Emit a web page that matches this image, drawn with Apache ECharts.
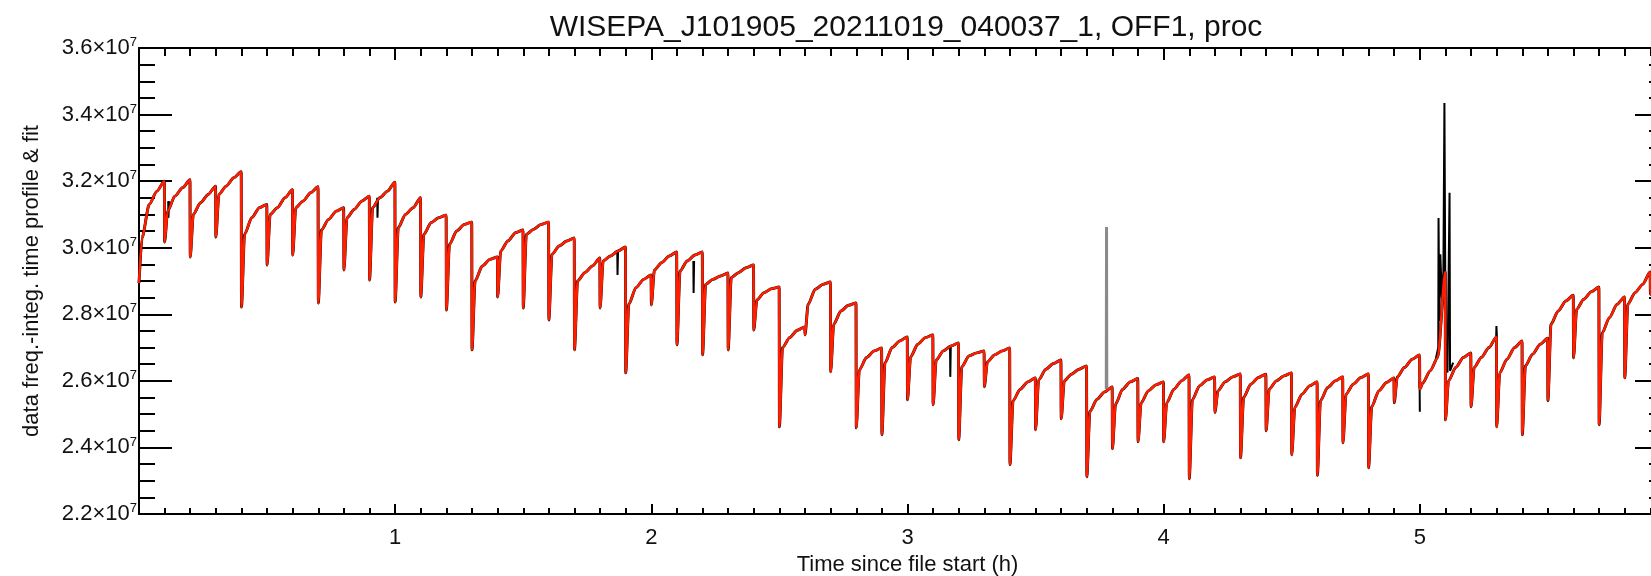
<!DOCTYPE html>
<html>
<head>
<meta charset="utf-8">
<script src="https://cdn.jsdelivr.net/npm/echarts@6/dist/echarts.min.js"></script>
<style>
html,body{margin:0;padding:0;background:#fff;}
#chart{width:1651px;height:576px;}
</style>
</head>
<body>
<div id="chart"></div>
<script>
// ---- data (values in units of 1e7) ----
// start time (h) of each ramp between detector resets
const resetTimes = [0.0,0.1,0.2,0.3,0.4,0.5,0.6,0.7,0.8,0.9,
  1.0,1.1,1.2,1.3,1.4,1.5,1.6,1.7,1.8,1.9,
  2.0,2.1,2.2,2.3,2.4,2.5,2.6,2.7,2.8,2.9,
  3.0,3.1,3.2,3.3,3.4,3.5,3.6,3.7,3.8,3.9,
  4.0,4.1,4.2,4.3,4.4,4.5,4.6,4.7,4.8,4.9,
  5.0,5.1,5.2,5.3,5.4,5.5,5.6,5.7,5.8,5.9];
// hours after each reset at which the values below were read
const sampleOffsets = [0, 0.012, 0.04, 0.07, 0.099];
const rampBottom = [2.894,3.017,2.972,3.032,2.822,2.948,2.978,2.834,2.933,2.903,
  2.837,2.852,2.813,2.693,2.852,2.819,2.783,2.693,2.819,2.624,
  2.828,2.708,2.678,2.693,2.753,2.462,2.738,2.627,2.459,2.438,
  2.543,2.528,2.423,2.582,2.348,2.453,2.486,2.312,2.396,2.417,
  2.417,2.306,2.505,2.369,2.450,2.378,2.316,2.414,2.339,2.534,
  2.575,2.483,2.522,2.462,2.438,2.540,2.669,2.468,2.609,2.860];
const rampKnee = [3.03,3.11,3.10,3.16,3.04,3.10,3.12,3.053,3.09,3.12,
  3.06,3.04,3.01,2.90,2.99,3.04,2.98,2.90,2.96,2.83,
  2.933,2.93,2.89,2.91,2.843,2.70,2.83,2.77,2.633,2.654,
  2.672,2.663,2.642,2.657,2.54,2.603,2.60,2.508,2.53,2.534,
  2.534,2.543,2.57,2.55,2.575,2.52,2.54,2.56,2.522,2.612,
  2.594,2.60,2.64,2.624,2.645,2.77,2.815,2.744,2.83,2.93];
const rampMid = [3.13,3.155,3.135,3.185,3.09,3.12,3.14,3.085,3.115,3.15,
  3.10,3.075,3.05,2.945,3.02,3.055,3.005,2.925,2.975,2.88,
  2.955,2.96,2.905,2.925,2.865,2.73,2.875,2.81,2.67,2.70,
  2.71,2.69,2.675,2.678,2.575,2.635,2.62,2.545,2.575,2.57,
  2.575,2.585,2.597,2.59,2.60,2.56,2.58,2.59,2.57,2.64,
  2.63,2.64,2.67,2.665,2.68,2.81,2.845,2.79,2.865,2.95];
const rampLate = [3.17,3.18,3.16,3.21,3.12,3.15,3.165,3.11,3.14,3.17,
  3.12,3.09,3.07,2.965,3.045,3.07,3.02,2.945,2.99,2.905,
  2.975,2.978,2.915,2.94,2.877,2.752,2.89,2.827,2.69,2.72,
  2.73,2.705,2.684,2.69,2.597,2.652,2.635,2.567,2.597,2.588,
  2.60,2.603,2.612,2.61,2.615,2.585,2.60,2.61,2.595,2.665,
  2.67,2.67,2.70,2.70,2.71,2.84,2.868,2.83,2.89,2.97];
const rampTop = [3.200,3.204,3.185,3.228,3.130,3.174,3.183,3.120,3.155,3.197,
  3.150,3.098,3.077,2.972,3.053,3.077,3.029,2.969,3.002,2.918,
  2.987,2.987,2.924,2.948,2.882,2.762,2.897,2.834,2.699,2.732,
  2.738,2.714,2.690,2.699,2.609,2.663,2.645,2.582,2.607,2.597,
  2.618,2.612,2.621,2.620,2.624,2.597,2.612,2.621,2.609,2.678,
  2.927,2.684,2.732,2.720,2.728,2.857,2.882,2.852,2.927,2.980];
// raw data excursions away from the fit (null = break)
const glitchTime = [0.114,0.115,0.117,null,0.930,0.931,0.933,null,1.867,1.868,1.870,null,
  2.164,2.165,2.167,null,3.166,3.167,3.169,null,4.999,5.000,null,
  5.062,5.072,5.073,5.076,5.080,5.086,5.092,5.096,5.099,5.102,5.108,5.115,5.116,5.118,5.130,null,
  5.298,5.299,5.301];
const glitchValue = [3.14,3.09,3.14,null,3.15,3.09,3.15,null,2.99,2.918,2.99,null,
  2.96,2.864,2.96,null,2.705,2.612,2.705,null,2.60,2.507,null,
  2.665,2.70,3.089,2.78,2.98,2.85,2.93,3.435,2.95,2.65,2.625,2.63,3.165,2.63,2.655,null,
  2.73,2.765,2.73];
// flagged data spike (grey)
const flaggedTime = [3.776, 3.777, 3.778];
const flaggedValue = [2.575, 3.062, 2.578];
// axes
const yTicks = [2.2,2.4,2.6,2.8,3.0,3.2,3.4,3.6];
const xTickLabels = ['', '1', '2', '3', '4', '5', ''];

// ---- build ----
const E7 = 1e7;
const rampCols = [rampBottom, rampKnee, rampMid, rampLate, rampTop];
const fitData = [];
resetTimes.forEach((t0, k) => {
  sampleOffsets.forEach((dt, j) => {
    fitData.push([+(t0 + dt).toFixed(4), rampCols[j][k] * E7]);
  });
});
const glitchData = glitchTime.map((t, i) => t === null ? [null, null] : [t, glitchValue[i] * E7]);
const flaggedData = flaggedTime.map((t, i) => [t, flaggedValue[i] * E7]);

const FONT = 'Liberation Sans';
const black = '#000';
const chart = echarts.init(document.getElementById('chart'), null, {renderer: 'canvas'});
const axisLineStyle = {color: black, width: 2};
chart.setOption({
  animation: false,
  backgroundColor: '#fff',
  title: {
    text: 'WISEPA_J101905_20211019_040037_1, OFF1, proc',
    left: 901, top: 8, textAlign: 'center',
    textStyle: {fontFamily: FONT, fontSize: 30, fontWeight: 'normal', color: '#111'}
  },
  grid: {left: 139, top: 48, right: -25, bottom: 62, containLabel: false, outerBoundsMode: 'none'},
  xAxis: [{
    type: 'value', position: 'bottom', min: 0, max: 6, interval: 1,
    name: 'Time since file start (h)', nameLocation: 'middle', nameGap: 33,
    nameTextStyle: {fontFamily: FONT, fontSize: 22, color: '#111'},
    axisLine: {show: true, onZero: false, lineStyle: axisLineStyle},
    axisTick: {show: true, inside: true, length: 10, lineStyle: {color: black, width: 2}},
    minorTick: {show: true, splitNumber: 10, length: 6, lineStyle: {color: black, width: 2}},
    axisLabel: {margin: 13, fontFamily: FONT, fontSize: 22, color: '#111',
      formatter: v => xTickLabels[Math.round(v)] || ''},
    splitLine: {show: false}
  }, {
    type: 'value', position: 'top', min: 0, max: 6, interval: 1,
    axisLine: {show: true, onZero: false, lineStyle: axisLineStyle},
    axisTick: {show: true, inside: true, length: 12, lineStyle: {color: black, width: 2}},
    minorTick: {show: true, splitNumber: 10, length: 8, lineStyle: {color: black, width: 2}},
    axisLabel: {show: false}, splitLine: {show: false}
  }],
  yAxis: [{
    type: 'value', position: 'left', min: 2.2 * E7, max: 3.6 * E7, interval: 0.2 * E7,
    name: 'data freq.-integ. time profile & fit', nameLocation: 'middle', nameGap: 96,
    nameTextStyle: {fontFamily: FONT, fontSize: 22, color: '#111'},
    axisLine: {show: true, onZero: false, lineStyle: axisLineStyle},
    axisTick: {show: true, inside: true, length: 33, lineStyle: {color: black, width: 2}},
    minorTick: {show: true, splitNumber: 4, length: 16, lineStyle: {color: black, width: 2}},
    axisLabel: {
      margin: 2,
      formatter: v => {
        const m = yTicks.find(y => Math.abs(y * E7 - v) < 1);
        return '{m|' + (m !== undefined ? m.toFixed(1) : (v / E7).toFixed(1)) + '×10}{e|7}';
      },
      rich: {
        m: {fontFamily: FONT, fontSize: 22, color: '#111', lineHeight: 24},
        e: {fontFamily: FONT, fontSize: 13, color: '#111', verticalAlign: 'top', lineHeight: 13}
      }
    },
    splitLine: {show: false}
  }, {
    type: 'value', position: 'right', min: 2.2 * E7, max: 3.6 * E7, interval: 0.2 * E7,
    axisLine: {show: true, onZero: false, lineStyle: axisLineStyle},
    axisTick: {show: true, inside: true, length: 41, lineStyle: {color: black, width: 2}},
    minorTick: {show: true, splitNumber: 4, length: 27, lineStyle: {color: black, width: 2}},
    axisLabel: {show: false}, splitLine: {show: false}
  }],
  series: [{
    name: 'data', type: 'line', data: fitData, showSymbol: false, symbol: 'none',
    smooth: 0.25, smoothMonotone: 'x',
    lineStyle: {color: '#000', width: 2.9}, z: 2, silent: true
  }, {
    name: 'data excursions', type: 'line', data: glitchData, showSymbol: false, symbol: 'none',
    connectNulls: false, lineStyle: {color: '#000', width: 2}, z: 3, silent: true
  }, {
    name: 'flagged', type: 'line', data: flaggedData, showSymbol: false, symbol: 'none',
    lineStyle: {color: '#8a8a8a', width: 3}, z: 2, silent: true
  }, {
    name: 'fit', type: 'line', data: fitData, showSymbol: false, symbol: 'none',
    smooth: 0.25, smoothMonotone: 'x',
    lineStyle: {color: '#ff1e00', width: 2.5}, z: 4, silent: true
  }]
});
</script>
</body>
</html>
